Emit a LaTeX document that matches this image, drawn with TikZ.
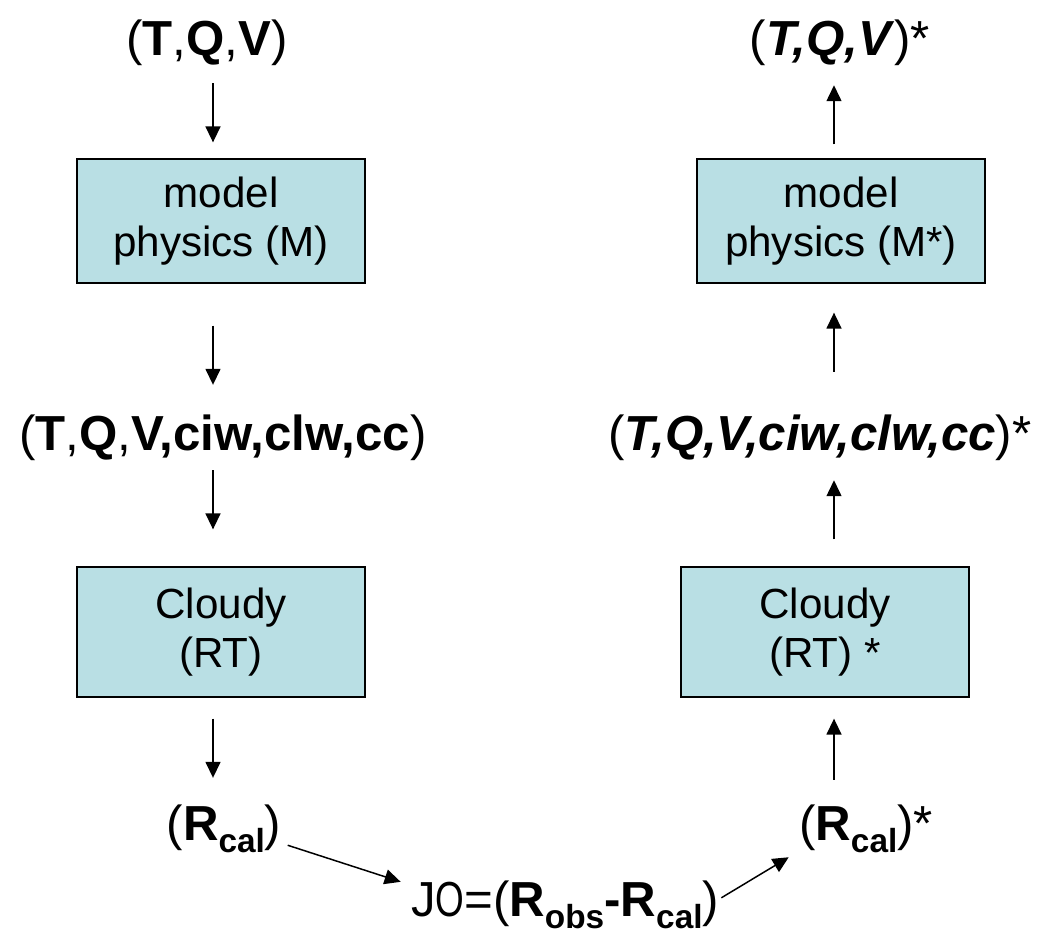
\documentclass[tikz,border=0pt]{standalone}
\usepackage{fontspec}
\setmainfont{Liberation Sans}
\usetikzlibrary{arrows.meta}
\definecolor{boxblue}{RGB}{185,223,228}
\newcommand{\lowsub}[1]{\raisebox{-0.26em}{\fontsize{19}{19}\selectfont #1}}
\tikzset{
  lbl/.style={font=\fontsize{28}{32}\selectfont, inner sep=0pt, text height=20.4pt, text depth=6.2pt, anchor=base},
  blk/.style={draw=black, line width=0.75pt, fill=boxblue, font=\fontsize{24}{28}\selectfont, align=center,
    minimum width=5.76cm, minimum height=2.48cm, inner sep=0pt},
  arr/.style={line width=0.85pt, -{Triangle[length=0.32cm,width=0.3cm]}}
}
\begin{document}
\begin{tikzpicture}[x=0.02cm,y=-0.02cm]
    \useasboundingbox (0,0) rectangle (1038,940);
    \coordinate (lcol) at (213,0);
    \coordinate (rcol) at (834,0);
    % forward
    \node[lbl] (tqv) at (207,55) {(\textbf{T},\textbf{Q},\textbf{V})};
    \node[blk] (mp) at (221,221) {model\\physics (M)};
    \node[lbl] (tqvc) at (223,450) {(\textbf{T},\textbf{Q},\textbf{V,ciw,clw,cc})};
    \node[blk, minimum height=2.6cm] (cl) at (221,632) {Cloudy\\(RT)};
    \node[lbl] (rc) at (224,840) {(\textbf{R\lowsub{cal}})};
    % adjoint
    \node[lbl] (tqvS) at (840,55) {(\textbf{\textit{T,Q,V}})*};
    \node[blk] (mpS) at (841,221) {model\\physics (M*)};
    \node[lbl] (tqvcS) at (820,450) {(\textbf{\textit{T,Q,V,ciw,clw,cc}})*};
    \node[blk, minimum height=2.6cm] (clS) at (825,632) {Cloudy\\(RT) *};
    \node[lbl] (rcS) at (866,840) {(\textbf{R\lowsub{cal}})*};
    \node[lbl] (jo) at (565,916) {J\scalebox{0.75}[1]{O}=(\textbf{R\lowsub{obs}-R\lowsub{cal}})};
    \foreach \a/\b/\s/\e in {tqv/mp/17/16, mp/tqvc/42/29, tqvc/cl/9/37, cl/rc/21/26}{
      \draw[arr, shorten <=\s*0.02cm, shorten >=\e*0.02cm] (\a.south -| lcol) -- (\b.north -| lcol);
    }
    \foreach \a/\b/\s/\e in {mpS/tqvS/14/19, tqvcS/mpS/42/29, clS/tqvcS/27/19, rcS/clS/24/21}{
      \draw[arr, shorten <=\s*0.02cm, shorten >=\e*0.02cm] (\a.north -| rcol) -- (\b.south -| rcol);
    }
    \draw[arr] ([shift={(6,-6)}]rc.south east) -- ([shift={(-10,2)}]jo.north west);
    \draw[arr] ([shift={(2,18)}]jo.north east) -- ([shift={(-10,6)}]rcS.south west);
\end{tikzpicture}
\end{document}
